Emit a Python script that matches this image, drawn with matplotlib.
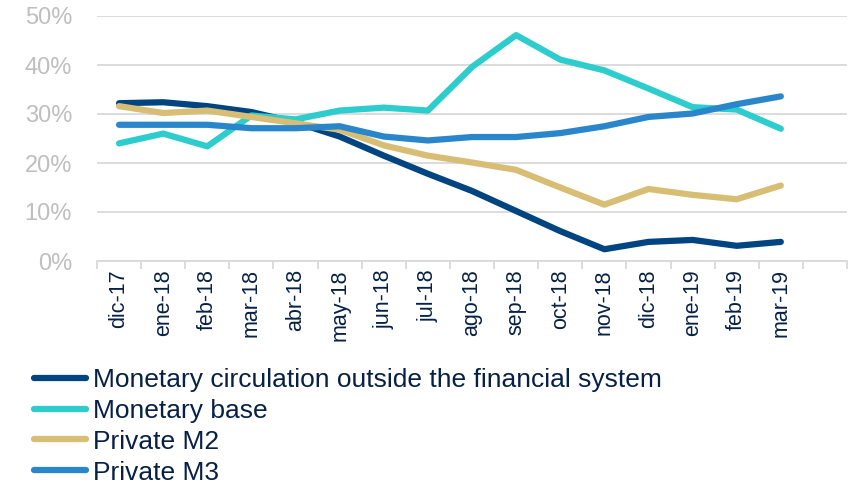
import matplotlib
matplotlib.use("Agg")
import matplotlib.pyplot as plt
import numpy as np
from matplotlib.ticker import FixedLocator, FuncFormatter

months = ["dic-17", "ene-18", "feb-18", "mar-18", "abr-18", "may-18", "jun-18", "jul-18",
          "ago-18", "sep-18", "oct-18", "nov-18", "dic-18", "ene-19", "feb-19", "mar-19"]

monetary_circulation = [32.2, 32.4, 31.6, 30.4, 28.3, 25.4, 21.5, 17.8,
                        14.3, 10.2, 6.1, 2.4, 3.9, 4.3, 3.1, 3.9]
monetary_base = [24.0, 26.0, 23.4, 29.7, 28.9, 30.7, 31.3, 30.7,
                 39.6, 46.1, 41.1, 38.9, 35.2, 31.4, 30.9, 27.0]
private_m2 = [31.6, 30.2, 30.7, 29.4, 28.1, 26.8, 23.6, 21.5,
              20.1, 18.6, 15.0, 11.5, 14.7, 13.5, 12.6, 15.4]
private_m3 = [27.8, 27.8, 27.8, 27.1, 27.1, 27.5, 25.4, 24.6,
              25.3, 25.3, 26.1, 27.5, 29.4, 30.1, 32.0, 33.6]

series_labels = ["Monetary circulation outside the financial system", "Monetary base",
                 "Private M2", "Private M3"]
colors = ["#004481", "#2DCCCD", "#D8BE75", "#2A86CA"]
yticks = [0, 10, 20, 30, 40, 50]

plt.rcParams['font.family'] = ['Liberation Sans', 'DejaVu Sans']

fig = plt.figure(figsize=(8.48, 4.93), dpi=100)
ax = fig.add_axes([97/848, 1-261/493, 750/848, 245/493])

x = np.arange(len(months))
for vals, lab, c in zip([monetary_circulation, monetary_base, private_m2, private_m3],
                        series_labels, colors):
    ax.plot(x, vals, color=c, lw=4.5, label=lab, solid_capstyle='round', solid_joinstyle='round')

ax.set_xlim(-0.5, len(months) + 0.5)
ax.set_ylim(0, 50)
ax.set_yticks(yticks)
ax.yaxis.set_major_formatter(FuncFormatter(lambda v, p: f"{int(v)}%"))
ax.grid(axis='y', color='#D9D9D9', lw=1.3)
ax.set_axisbelow(True)
for s in ['top', 'right', 'left']:
    ax.spines[s].set_visible(False)
ax.spines['bottom'].set_color('#D9D9D9')
ax.spines['bottom'].set_linewidth(1.3)

ax.set_xticks(x)
ax.set_xticklabels(months, rotation=90, fontsize=15.5, color='#072146')
ax.tick_params(axis='x', which='major', length=0, pad=6)
ax.xaxis.set_minor_locator(FixedLocator(np.arange(-0.5, len(months) + 1, 1.0)))
ax.tick_params(axis='x', which='minor', length=6, width=1.3, color='#D9D9D9')
ax.tick_params(axis='y', length=0, labelsize=17, labelcolor='#BFBFBF', pad=18)

leg = fig.legend(loc='upper left', bbox_to_anchor=(34/848, 1-368/493), frameon=False,
                 fontsize=19.0, handlelength=1.98, handletextpad=0.24, labelspacing=0.26,
                 borderpad=0, borderaxespad=0)
for t in leg.get_texts():
    t.set_color('#072146')
for h in leg.get_lines():
    h.set_linewidth(4.5)
    h.set_solid_capstyle('round')

fig.savefig("out.png", dpi=100)
